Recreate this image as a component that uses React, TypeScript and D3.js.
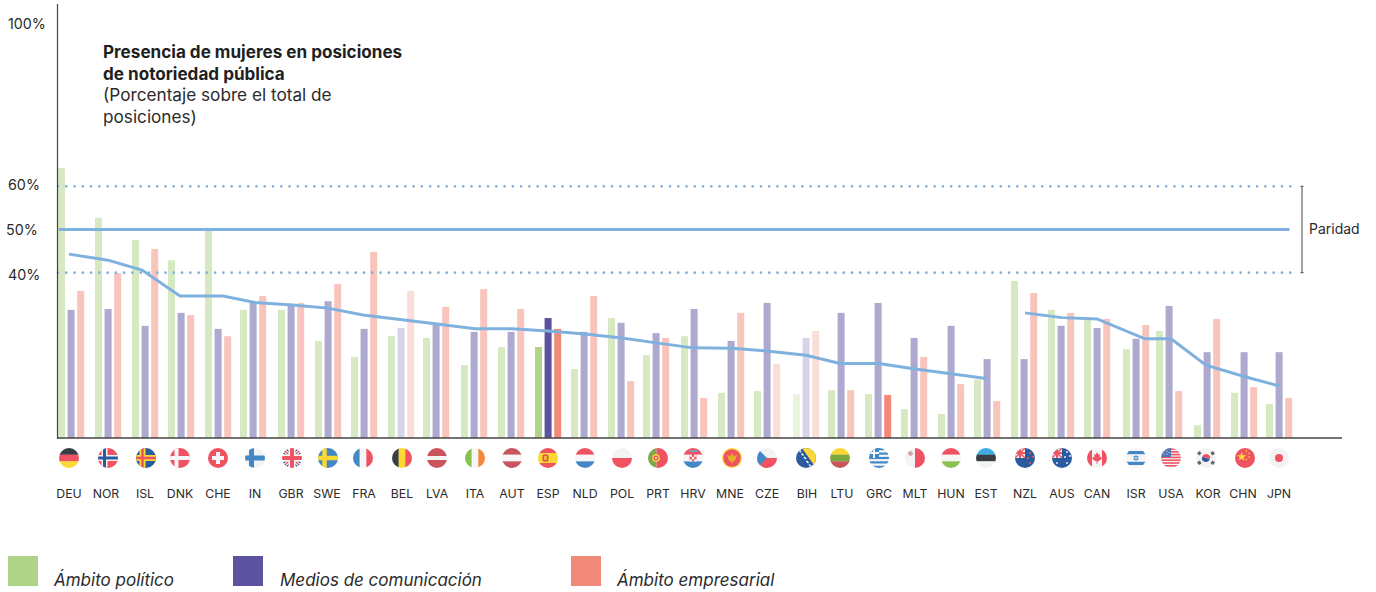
import React from "react";
import * as d3 from "d3";

const countries = ["DEU","NOR","ISL","DNK","CHE","IN","GBR","SWE","FRA","BEL","LVA","ITA","AUT","ESP","NLD","POL","PRT","HRV","MNE","CZE","BIH","LTU","GRC","MLT","HUN","EST","NZL","AUS","CAN","ISR","USA","KOR","CHN","JPN"];
const politico = [64.2,52.7,47.6,42.9,49.9,31.4,31.4,24.2,20.5,25.3,24.9,18.6,22.8,22.8,17.7,29.5,20.9,25.3,12.2,12.6,11.9,12.8,11.9,8.4,7.3,15.2,38.1,31.4,29.3,22.3,26.5,4.7,12.2,9.6];
const medios = [31.4,31.6,27.7,30.7,27.0,33.2,32.8,33.4,27.0,27.2,28.1,26.3,26.3,29.5,26.3,28.4,26.0,31.6,24.2,33.0,24.9,30.7,33.0,24.9,27.7,20.0,20.0,27.7,27.2,24.7,32.3,21.6,21.6,21.6];
const empresarial = [35.8,39.9,45.5,30.2,25.3,34.6,33.0,37.4,44.8,35.8,32.1,36.2,31.6,27.0,34.6,14.9,24.9,11.0,30.7,18.9,26.5,12.8,11.7,20.5,14.2,10.3,35.3,30.7,29.3,27.9,12.6,29.3,13.5,11.0];
const promedio = [44.3,42.9,40.6,34.6,34.6,33.1,32.5,31.8,30.2,29.1,28.1,27.0,27.0,26.5,25.8,24.9,23.7,22.6,22.5,21.9,20.9,19.0,19.0,17.7,16.6,15.5,30.7,29.6,29.3,24.7,24.7,18.6,15.9,13.8];
const europeCount = 26;
const yTicks = [100, 60, 50, 40];
const dottedValues = [60, 40];
const parityValue = 50;
const seriesKeys = ["politico", "medios", "empresarial"];
const seriesValues: Record<string, number[]> = { politico, medios, empresarial };
const seriesLabels = ["Ámbito político", "Medios de comunicación", "Ámbito empresarial"];
const seriesColors = ["#afd388", "#5b539f", "#f28a7a"];
const titleBold = ["Presencia de mujeres en posiciones", "de notoriedad pública"];
const titleRegular = ["(Porcentaje sobre el total de", "posiciones)"];

// Hand layout of the reference: it is not perfectly regular.
const groupNudge = [0,.3,.6,-.1,.2,-1.5,-.2,.1,-.6,-.3,-2,-.7,-.4,-.1,-.8,-.5,-2.2,-.9,-.6,-1.3,1,-.7,-.4,-1.1,-.8,-1.5,-1.2,-.9,-1.6,.7,-3,-1.7,-1.4,-3.1];
const flagNudge = [0,2.3,3.6,.9,2.2,2.5,2.8,2.1,.4,2.7,1,2.3,2.6,1.9,2.2,2.5,1.8,.1,2.4,.7,3,.3,2.6,1.9,1.2,-.5,1.8,2.1,.4,2.7,1,-.7,1.6,-1.1];
const labelDelta: Record<string, number> = { NOR:-2, ISL:-1, GBR:-1, SWE:-1, FRA:1, MNE:-2, LTU:2, KOR:2, CHN:-2, BIH:1, PRT:0 };
const lineDelta: Record<string, number> = { ISL:-4, CHE:5, ISR:9 };
const tickLabelY: Record<number, number> = { 100: 24, 60: 185, 50: 230, 40: 275 };
const tickLabelX: Record<number, number> = { 100: 8, 60: 8, 50: 6, 40: 8 };
const opacityOverride: Record<string, number> = {
  "ESP-politico":1,"ESP-medios":1,"ESP-empresarial":1,"GRC-empresarial":1,
  "BEL-medios":.25,"BEL-empresarial":.28,"BIH-politico":.28,"BIH-medios":.25,"BIH-empresarial":.28,"CZE-empresarial":.28,
};

const y = d3.scaleLinear().domain([0, 100]).range([445.5, 13.5]);
const groupX = d3.scaleBand<string>().domain(countries).range([58, 58 + 36.7 * countries.length]);
const barX = d3.scaleBand<string>().domain(seriesKeys).range([0, 26.2]).paddingInner(0.27).paddingOuter(0);
const centerX = d3.scalePoint<string>().domain(countries).range([69, 1280.1]);
const flagCenter = (c: string) => (centerX(c) as number) + flagNudge[countries.indexOf(c)];
const BASE = 438;

const R = "#ef5261", NAVY = "#2a5b9f", BL = "#4288c6", Y = "#fdd835", G = "#8bc152", W = "#f6f6f7", DK = "#3a3d44", MA = "#c8555c", GY = "#f3f3f4";

function HS({ c }: { c: string[] }) {
  const h = 20 / c.length;
  return <>{c.map((f, i) => <rect key={i} x={-10} y={-10 + i * h} width={20} height={h + .2} fill={f} />)}</>;
}
function VS({ c }: { c: string[] }) {
  const w = 20 / c.length;
  return <>{c.map((f, i) => <rect key={i} x={-10 + i * w} y={-10} width={w + .2} height={20} fill={f} />)}</>;
}
function Nordic({ bg, a, wa, b, wb }: { bg: string; a: string; wa: number; b?: string; wb?: number }) {
  return <>
    <rect x={-10} y={-10} width={20} height={20} fill={bg} />
    <rect x={-10} y={-wa / 2} width={20} height={wa} fill={a} />
    <rect x={-3.5 - wa / 2} y={-10} width={wa} height={20} fill={a} />
    {b && <>
      <rect x={-10} y={-(wb as number) / 2} width={20} height={wb} fill={b} />
      <rect x={-3.5 - (wb as number) / 2} y={-10} width={wb} height={20} fill={b} />
    </>}
  </>;
}
function bg(f: string) { return <rect x={-10} y={-10} width={20} height={20} fill={f} />; }

function flag(code: string) {
  switch (code) {
    case "DEU": return <HS c={[DK, R, Y]} />;
    case "NOR": return <Nordic bg={R} a={W} wa={6} b={NAVY} wb={3} />;
    case "ISL": return <Nordic bg={NAVY} a={Y} wa={6} b={R} wb={2.5} />;
    case "DNK": return <Nordic bg={R} a={W} wa={4} />;
    case "CHE": return <>{bg(R)}<rect x={-6} y={-2} width={12} height={4} fill={W} /><rect x={-2} y={-6} width={4} height={12} fill={W} /></>;
    case "IN": return <Nordic bg={GY} a={BL} wa={5} />;
    case "GBR": return <>{bg(W)}
      <path d="M-10-10L10 10M10-10L-10 10" stroke={NAVY} strokeWidth={6} />
      <path d="M-10-10L10 10M10-10L-10 10" stroke={W} strokeWidth={3.4} />
      <path d="M-10-10L10 10M10-10L-10 10" stroke={R} strokeWidth={1.4} />
      <rect x={-10} y={-3.5} width={20} height={7} fill={W} /><rect x={-3.5} y={-10} width={7} height={20} fill={W} />
      <rect x={-10} y={-2} width={20} height={4} fill={R} /><rect x={-2} y={-10} width={4} height={20} fill={R} /></>;
    case "SWE": return <Nordic bg={BL} a={Y} wa={4.5} />;
    case "FRA": return <VS c={[BL, W, R]} />;
    case "BEL": return <VS c={[DK, Y, R]} />;
    case "LVA": return <><HS c={[MA, MA, W, MA, MA]} /></>;
    case "ITA": return <VS c={[G, W, "#f5873a"]} />;
    case "AUT": return <HS c={[MA, W, MA]} />;
    case "ESP": return <><HS c={[R, Y, Y, R]} /><rect x={-5.5} y={-3.5} width={6} height={7} rx={1.5} fill="#d9534f" /><rect x={-4} y={-2} width={3} height={4} fill="#f5b041" /></>;
    case "NLD": return <HS c={[R, W, BL]} />;
    case "POL": return <HS c={[GY, R]} />;
    case "PRT": return <><rect x={-10} y={-10} width={8.5} height={20} fill="#7da94f" /><rect x={-1.5} y={-10} width={11.5} height={20} fill={R} /><circle cx={-2} cy={0} r={4} fill="#f0c33c" /><circle cx={-2} cy={0} r={2.3} fill={R} /><circle cx={-2} cy={0} r={1} fill={W} /></>;
    case "HRV": return <><HS c={[R, W, BL]} /><rect x={-3.5} y={-6} width={7} height={9} rx={1} fill={R} /><path d="M-3.5-3.5h2.3v2.3h-2.3zM1.2-3.5h2.3v2.3h-2.3zM-1.2-1.2h2.4v2.4h-2.4zM-3.5 1.2h2.3v2.3h-2.3zM1.2 1.2h2.3v2.3h-2.3z" fill={W} /><rect x={-4} y={-8} width={8} height={2} fill="#7b9bc8" /></>;
    case "MNE": return <>{bg(Y)}<circle r={8.7} fill={R} /><path d="M-5-3.5L-2-1.5L0-5L2-1.5L5-3.5L3.5 2L1.2 3.5L0 6L-1.2 3.5L-3.5 2Z" fill="#e5a92c" /></>;
    case "CZE": return <><HS c={[GY, R]} /><path d="M-10-10L0 0L-10 10Z" fill={BL} /></>;
    case "BIH": return <>{bg(NAVY)}<path d="M-4-10H10V10Z" fill={Y} /><path d="M-7-8L-5-6M-4.5-4.5L-2.5-2.5M-2-1L0 1M.5 3L2.5 5M3 6.5L5 8.5" stroke={W} strokeWidth={1.6} /></>;
    case "LTU": return <HS c={[Y, "#7da83f", MA]} />;
    case "GRC": return <>{bg(W)}{[-8.9,-4.4,0,4.4,8.9].map((v) => <rect key={v} x={-10} y={v - 1.1} width={20} height={2.2} fill={BL} />)}<rect x={-10} y={-10} width={10} height={10} fill={BL} /><rect x={-10} y={-6} width={10} height={2} fill={W} /><rect x={-6} y={-10} width={2} height={10} fill={W} /></>;
    case "MLT": return <><VS c={[GY, R]} /><rect x={-7} y={-5.5} width={5} height={1.8} fill="#c99" /><rect x={-5.4} y={-7} width={1.8} height={5} fill="#c99" /></>;
    case "HUN": return <HS c={[R, W, G]} />;
    case "EST": return <HS c={["#3eaee2", DK, GY]} />;
    case "NZL": return <>{bg(NAVY)}<g transform="translate(-5,-5) scale(.5)"><rect x={-10} y={-10} width={20} height={20} fill={W} /><path d="M-10-10L10 10M10-10L-10 10" stroke={R} strokeWidth={3} /><rect x={-10} y={-2} width={20} height={4} fill={R} /><rect x={-2} y={-10} width={4} height={20} fill={R} /></g>{[[5,-5],[8,-1],[3,0],[5,5]].map(([a,b],i) => <circle key={i} cx={a} cy={b} r={1} fill={R} />)}</>;
    case "AUS": return <>{bg(NAVY)}<g transform="translate(-5,-5) scale(.5)"><rect x={-10} y={-10} width={20} height={20} fill={W} /><path d="M-10-10L10 10M10-10L-10 10" stroke={R} strokeWidth={3} /><rect x={-10} y={-2} width={20} height={4} fill={R} /><rect x={-2} y={-10} width={4} height={20} fill={R} /></g>{[[-5,5],[5,-6],[8,-2],[3,-1],[5,5]].map(([a,b],i) => <circle key={i} cx={a} cy={b} r={.9} fill={W} />)}</>;
    case "CAN": return <><VS c={[R, W, W, R]} /><path d="M0-6L1.4-3.2L3-4L2.4-.8L4.5-1.5L4-0L5 .8L1 3.4L.4 3.2V6H-.4V3.2L-1 3.4L-5 .8L-4 0L-4.5-1.5L-2.4-.8L-3-4L-1.4-3.2Z" fill={R} /></>;
    case "ISR": return <>{bg(W)}<rect x={-10} y={-7} width={20} height={3.2} fill={BL} /><rect x={-10} y={3.8} width={20} height={3.2} fill={BL} /><path d="M0-2.6L2.3 1.4H-2.3ZM0 2.6L2.3-1.4H-2.3Z" fill="none" stroke={BL} strokeWidth={.8} /></>;
    case "USA": return <>{bg(W)}{[-9,-6.2,-3.4,-.6,2.2,5,7.8].map((v) => <rect key={v} x={-10} y={v - .8} width={20} height={1.6} fill={R} />)}<rect x={-10} y={-10} width={10} height={9} fill="#4f74b8" />{[[-7,-7],[-4,-7],[-7,-4],[-4,-4],[-2,-5.5]].map(([a,b],i) => <circle key={i} cx={a} cy={b} r={.6} fill={W} />)}</>;
    case "KOR": return <>{bg(GY)}<path d="M-4 0A4 4 0 0 1 4 0Z" fill={R} transform="rotate(20)" /><path d="M-4 0A4 4 0 0 0 4 0Z" fill={NAVY} transform="rotate(20)" />{[[-7,-5,35],[7,-5,-35],[-7,5,-35],[7,5,35]].map(([a,b,r],i) => <rect key={i} x={a - 2} y={b - 1.6} width={4} height={3.2} fill="#666" transform={`rotate(${r} ${a} ${b})`} />)}</>;
    case "CHN": return <>{bg(R)}<path d="M-5-6.5L-3.7-2.7H.4L-2.9-.3L-1.7 3.4L-5 1.2L-8.3 3.4L-7.1-.3L-10.4-2.7H-6.3Z" fill={Y} transform="translate(1.2,-.4) scale(.9)" />{[[1.5,-7],[4,-4.5],[4,-1],[1.5,1.5]].map(([a,b],i) => <circle key={i} cx={a} cy={b} r={.8} fill={Y} />)}</>;
    case "JPN": return <>{bg(GY)}<circle r={4} fill={R} /></>;
    default: return bg(GY);
  }
}

const lineGen = d3.line<{ c: string; v: number }>()
  .x((d) => flagCenter(d.c) + (lineDelta[d.c] || 0))
  .y((d) => y(d.v))
  .curve(d3.curveLinear);
const pts = countries.map((c, i) => ({ c, v: promedio[i] }));
const font = "Inter, 'Noto Sans', sans-serif";
const BLUE = "#7fb1df";
const INK = "#2b2b2b";

export default function App() {
  return (
    <svg width={1376} height={592} style={{ position: "absolute", left: 0, top: 0, display: "block", background: "#fff" }} fontFamily={font}>
      <defs><clipPath id="flagClip"><circle r={10} /></clipPath></defs>
      {countries.map((c, i) => seriesKeys.map((s, si) => {
        const v = seriesValues[s][i];
        const top = y(v);
        return <rect key={c + s} x={(groupX(c) as number) + groupNudge[i] + (barX(s) as number)} y={top} width={barX.bandwidth()} height={BASE - top}
          fill={seriesColors[si]} opacity={opacityOverride[`${c}-${s}`] ?? 0.5} />;
      }))}
      {dottedValues.map((v) => <line key={v} x1={58} x2={1291} y1={y(v)} y2={y(v)} stroke={BLUE} strokeWidth={2.7} strokeLinecap="round" strokeDasharray="0 8.27" />)}
      <line x1={59} x2={1289.5} y1={y(parityValue)} y2={y(parityValue)} stroke={BLUE} strokeWidth={3} />
      <path d={lineGen(pts.slice(0, europeCount)) as string} fill="none" stroke={BLUE} strokeWidth={3} />
      <path d={lineGen(pts.slice(europeCount)) as string} fill="none" stroke={BLUE} strokeWidth={3} />
      <line x1={57.5} x2={57.5} y1={4} y2={BASE + 1} stroke="#444" strokeWidth={1.2} />
      <line x1={57} x2={1342} y1={BASE} y2={BASE} stroke="#444" strokeWidth={1.3} />
      <path d={`M${1302} ${y(60)}V${y(40)}M1300.5 ${y(60)}H1303.5M1300.5 ${y(40)}H1303.5`} fill="none" stroke="#444" strokeWidth={1} />
      <text x={1309} y={233.5} fontSize={14} fill={INK}>Paridad</text>
      {yTicks.map((t) => <text key={t} x={tickLabelX[t]} y={tickLabelY[t] + 4.8} fontSize={14.3} fill={INK}>{t}%</text>)}
      {titleBold.map((t, i) => <text key={t} x={103} y={57.5 + i * 22} fontSize={17.1} fontWeight={700} fill="#1f1f1f">{t}</text>)}
      {titleRegular.map((t, i) => <text key={t} x={103} y={100.5 + i * 22} fontSize={17.2} fill={INK}>{t}</text>)}
      {countries.map((c) => <g key={c} transform={`translate(${flagCenter(c)},458)`}><g clipPath="url(#flagClip)">{flag(c)}</g></g>)}
      {countries.map((c) => <text key={c} x={flagCenter(c) + (labelDelta[c] || 0)} y={497.5} textAnchor="middle" fontSize={12.3} fill={INK}>{c}</text>)}
      {seriesLabels.map((l, i) => {
        const sx = [8, 233, 571][i], tx = [54, 280, 617][i];
        return <g key={l}><rect x={sx} y={556} width={30} height={30} fill={seriesColors[i]} /><text x={tx} y={586} fontSize={17} fontStyle="italic" fill={INK}>{l}</text></g>;
      })}
    </svg>
  );
}
